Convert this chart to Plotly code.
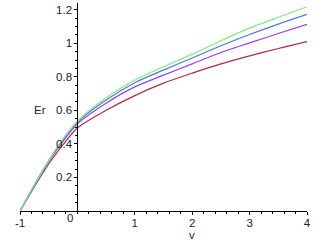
import plotly.graph_objects as go

# valores
v = [-1, -0.75, -0.5, -0.25, 0, 0.5, 1, 1.5, 2, 2.5, 3, 3.5, 4]
er_green = [0, 0.155, 0.30, 0.43, 0.535, 0.675, 0.78, 0.86, 0.935, 1.015, 1.09, 1.155, 1.218]
er_blue = [0, 0.155, 0.30, 0.425, 0.53, 0.662, 0.765, 0.84, 0.912, 0.985, 1.052, 1.114, 1.172]
er_purple = [0, 0.15, 0.295, 0.415, 0.52, 0.643, 0.74, 0.81, 0.877, 0.945, 1.002, 1.058, 1.113]
er_red = [0, 0.145, 0.28, 0.395, 0.495, 0.60, 0.688, 0.762, 0.822, 0.877, 0.925, 0.969, 1.01]

x_ticks = [-1, 1, 2, 3, 4]
y_ticks = [0.2, 0.4, 0.6, 0.8, 1, 1.2]

series = [
    (er_red, "#b02850"),
    (er_purple, "#9a3cff"),
    (er_blue, "#4a78dc"),
    (er_green, "#78f078"),
]

fig = go.Figure()
for ys, color in series:
    fig.add_trace(
        go.Scatter(
            x=v,
            y=ys,
            mode="lines",
            line=dict(color=color, width=1.2, shape="spline", smoothing=0.8),
            showlegend=False,
        )
    )

font = dict(family="Liberation Sans, Arial, sans-serif", size=11.5, color="#222")

fig.update_layout(
    width=326,
    height=242,
    margin=dict(l=20, r=19, t=3, b=31),
    paper_bgcolor="white",
    plot_bgcolor="white",
    font=font,
    xaxis=dict(
        range=[-1, 4],
        domain=[0, 1],
        showgrid=False,
        zeroline=False,
        showline=True,
        linecolor="black",
        linewidth=1,
        ticks="outside",
        ticklen=3,
        tickcolor="black",
        tickvals=x_ticks,
        ticktext=[str(t) for t in x_ticks],
        ticklabelstandoff=-2,
        minor=dict(dtick=0.2, ticks="outside", ticklen=2, tickcolor="black"),
        fixedrange=True,
    ),
    yaxis=dict(
        range=[0, 1.24],
        anchor="free",
        position=0.2,
        showgrid=False,
        zeroline=False,
        showline=True,
        linecolor="black",
        linewidth=1,
        ticks="outside",
        ticklen=3,
        tickcolor="black",
        tickvals=y_ticks,
        ticktext=["0.2", "0.4", "0.6", "0.8", "1", "1.2"],
        minor=dict(dtick=0.05, ticks="outside", ticklen=2, tickcolor="black"),
        fixedrange=True,
    ),
)

fig.add_annotation(x=0, y=0, text="0", showarrow=False, xanchor="right",
                   yanchor="top", xshift=-2, yshift=1, font=font)
fig.add_annotation(x=2, y=0, text="v", showarrow=False, yanchor="middle",
                   yshift=-23.5, font=font)
fig.add_annotation(x=-0.65, y=0.6, text="Er", showarrow=False, font=font)

fig.write_html(
    "out.html",
    config={"displayModeBar": False},
    post_script="document.body.style.margin='0';",
)
